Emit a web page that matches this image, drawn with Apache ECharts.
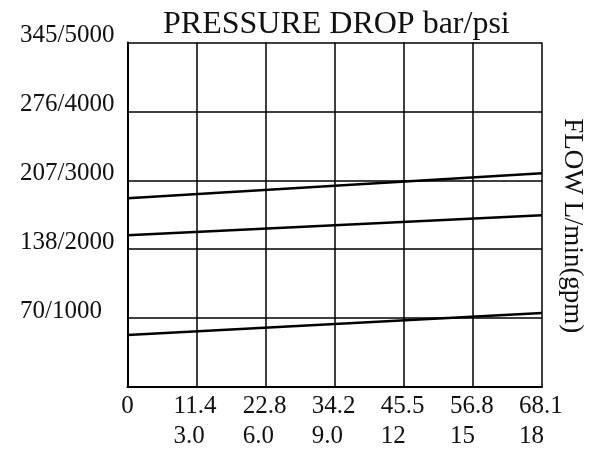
<!DOCTYPE html>
<html lang="en">
<head>
  <meta charset="UTF-8">
  <script src="https://cdn.jsdelivr.net/npm/echarts@6/dist/echarts.min.js"></script>
</head>
<body style="margin:0;background:#fff;">
<div id="main" style="width:589px;height:449px;"></div>
<script>
  // flow in gpm (axis scale) and the matching L/min labels
  var gpmTicks = [0, 3, 6, 9, 12, 15, 18];
  var lminLabels = ['0', '11.4', '22.8', '34.2', '45.5', '56.8', '68.1'];
  var gpmLabels = ['', '3.0', '6.0', '9.0', '12', '15', '18'];
  // pressure axis: bar values and bar/psi labels
  var barTicks = [0, 69, 138, 207, 276, 345];
  var pressureLabels = ['', '70/1000', '138/2000', '207/3000', '276/4000', '345/5000'];
  // pressure drop lines, bar at 0 and 18 gpm
  var flowEnds = [0, 18];
  var curveA = [189, 214];
  var curveB = [152, 172];
  var curveC = [52, 74];

  var font = 'Liberation Serif';
  var main = echarts.init(document.getElementById('main'));

  function pairs(vals) {
    var out = [];
    for (var i = 0; i < flowEnds.length; i++) out.push([flowEnds[i], vals[i]]);
    return out;
  }
  function line(vals) {
    return {
      type: 'line', data: pairs(vals), symbol: 'none', silent: true,
      lineStyle: {color: '#000', width: 2.5}
    };
  }

  main.setOption({
    backgroundColor: '#fff',
    animation: false,
    title: {
      text: 'PRESSURE DROP bar/psi', left: 158, top: 4,
      textStyle: {fontFamily: font, fontSize: 32, fontWeight: 'normal', color: '#111'}
    },
    grid: {left: 127.5, right: 47, top: 42.5, bottom: 62, outerBoundsMode: 'none', containLabel: false},
    xAxis: {
      type: 'value', min: 0, max: 18, interval: 3,
      axisLine: {lineStyle: {color: '#000', width: 2}},
      axisTick: {show: false},
      splitLine: {lineStyle: {color: '#000', width: 1.5}},
      axisLabel: {
        margin: 4, color: '#111', fontFamily: font, fontSize: 25,
        formatter: function (v) {
          var i = gpmTicks.indexOf(v);
          if (i <= 0) return '{z|' + lminLabels[0] + '}';
          return '{a|' + lminLabels[i] + '}\n{a|' + gpmLabels[i] + '}';
        },
        rich: {
          a: {width: 46, align: 'left', lineHeight: 30, fontSize: 25, fontFamily: font, color: '#111'},
          z: {lineHeight: 30, fontSize: 25, fontFamily: font, color: '#111'}
        }
      }
    },
    yAxis: [{
      type: 'value', min: 0, max: 345, interval: 69,
      axisLine: {show: true, lineStyle: {color: '#000', width: 2}},
      axisTick: {show: false},
      splitLine: {lineStyle: {color: '#000', width: 1.5}},
      axisLabel: {
        align: 'left', verticalAlign: 'bottom', lineHeight: 14,
        margin: 107.5, color: '#111', fontFamily: font, fontSize: 25,
        formatter: function (v) { return pressureLabels[barTicks.indexOf(v)] || ''; }
      }
    }, {
      type: 'value', min: 0, max: 345, position: 'right',
      axisLine: {show: false}, axisTick: {show: false}, axisLabel: {show: false},
      splitLine: {show: false},
      name: 'FLOW L/min(gpm)', nameLocation: 'middle', nameRotate: -90, nameGap: 17,
      nameTextStyle: {fontFamily: font, fontSize: 27, color: '#111', padding: [0, 0, 0, 22]}
    }],
    series: [line(curveA), line(curveB), line(curveC)]
  });
</script>
</body>
</html>
